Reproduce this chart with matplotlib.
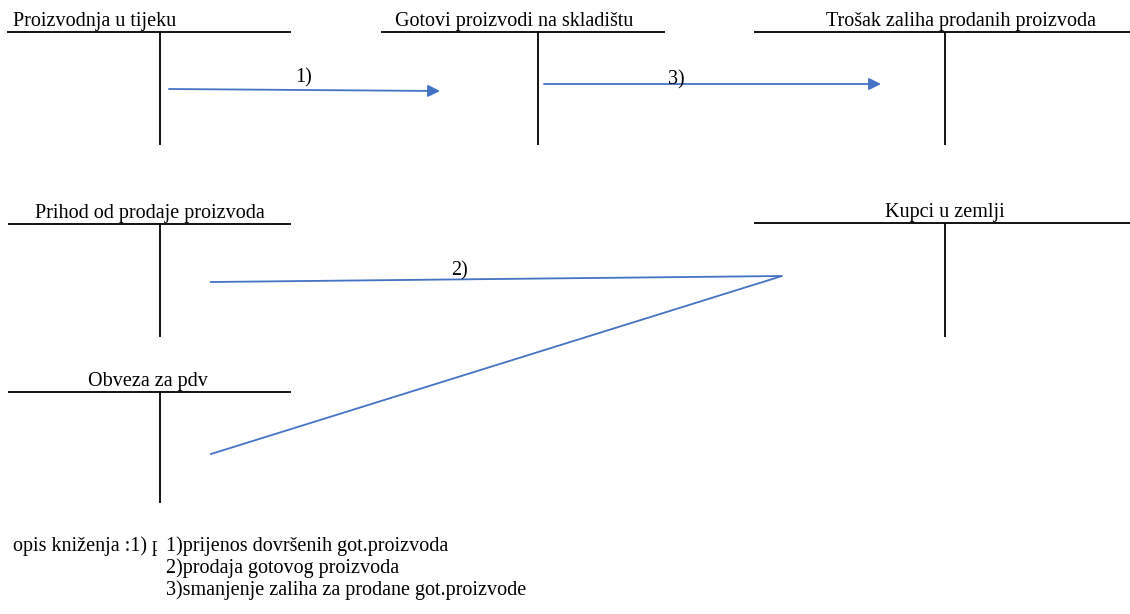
import matplotlib
matplotlib.use("Agg")
import matplotlib.pyplot as plt
from matplotlib.patches import Rectangle

# account titles
accounts = ["Proizvodnja u tijeku", "Gotovi proizvodi na skladištu",
            "Trošak zaliha prodanih proizvoda", "Prihod od prodaje proizvoda",
            "Kupci u zemlji", "Obveza za pdv"]
# T-account layout in pixels: left, right, top, stem x, bottom, label x, label baseline
t_left = [7, 381, 754, 8, 754, 8]
t_right = [291, 665, 1130, 291, 1130, 291]
t_top = [32, 32, 32, 224, 223, 392]
t_stem = [160, 538, 945, 160, 945, 160]
t_bottom = [145, 145, 145, 337, 337, 503]
lab_x = [95, 514, 961, 150, 945, 148]
lab_y = [26, 26, 26, 218, 217, 386]

# bookings
book_labels = ["1)", "3)"]
arrow_start = [(169, 89), (544, 84)]
arrow_end = [(440, 91), (881, 84)]
book_lab_pos = [(304, 82), (676, 84)]
# booking 2 splits from Kupci to Prihod and Obveza za pdv
split_x = [211, 782, 211]
split_y = [282, 276, 454]

notes_head = "opis kniženja :1) "
notes = ["1)prijenos dovršenih got.proizvoda",
         "2)prodaja gotovog proizvoda",
         "3)smanjenje zaliha za prodane got.proizvode"]

blue = "#4472C4"
fnt = dict(family="Liberation Serif", fontsize=14.5, color="black")

fig = plt.figure(figsize=(11.3, 6.14), dpi=100)
ax = fig.add_axes([0, 0, 1, 1])
ax.set_xlim(0, 1130)
ax.set_ylim(614, 0)
ax.axis("off")

for i in range(len(accounts)):
    ax.plot([t_left[i], t_right[i]], [t_top[i], t_top[i]], color="black", lw=1.3, solid_capstyle="butt")
    ax.plot([t_stem[i], t_stem[i]], [t_top[i], t_bottom[i]], color="black", lw=1.3, solid_capstyle="butt")
    ax.text(lab_x[i], lab_y[i], accounts[i], ha="center", va="baseline", **fnt)

for lab, s, e, p in zip(book_labels, arrow_start, arrow_end, book_lab_pos):
    ax.annotate("", xy=e, xytext=s,
                arrowprops=dict(arrowstyle="-|>", color=blue, lw=1.3, mutation_scale=18,
                                shrinkA=0, shrinkB=0))
    ax.text(p[0], p[1], lab, ha="center", va="baseline", **fnt)

ax.plot(split_x, split_y, color=blue, lw=1.3)
ax.text(460, 275, "2)", ha="center", va="baseline", **fnt)

# description block, the trailing "p" is cut off like in the source
ax.text(13, 551, notes_head, ha="left", va="baseline", **fnt)
clip = Rectangle((140, 525), 17, 45, transform=ax.transData)
pt = ax.text(152, 551, "p", ha="left", va="baseline", clip_on=True, **fnt)
pt.set_clip_path(clip)
for k, line in enumerate(notes):
    ax.text(166, 551 + 22 * k, line, ha="left", va="baseline", **fnt)

fig.savefig("out.png", dpi=100)
